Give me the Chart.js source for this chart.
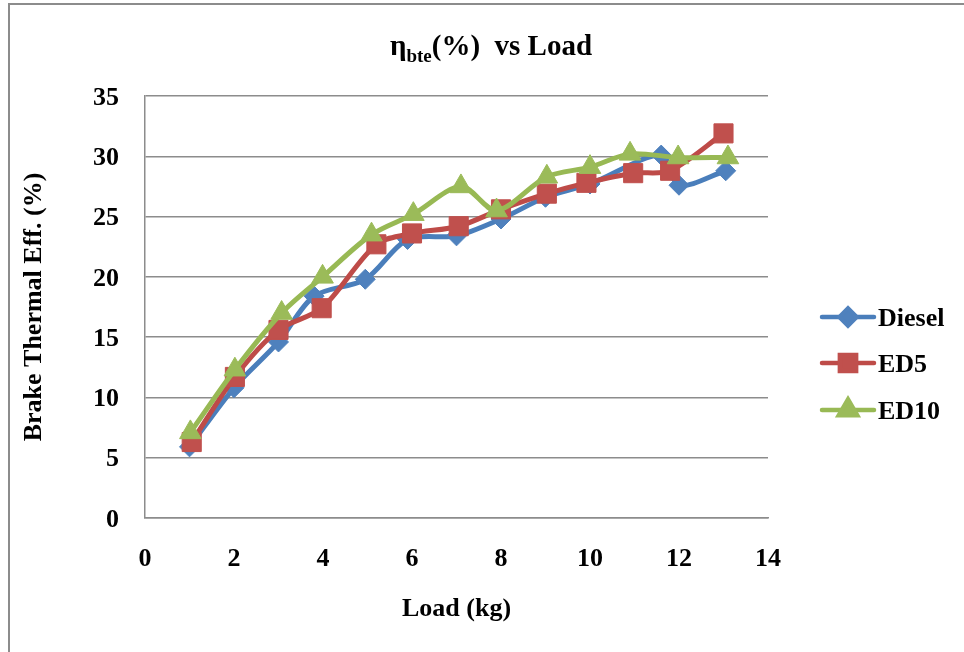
<!DOCTYPE html>
<html>
<head>
<meta charset="utf-8">
<script src="https://cdn.jsdelivr.net/npm/chart.js"></script>
<style>
  html, body { margin: 0; padding: 0; background: #fff; overflow: hidden; }
  #wrap { position: relative; width: 964px; height: 652px; }
  #frame { position: absolute; left: 8px; top: 3px; width: 1000px; height: 700px; border: 2px solid #8c8c8c; }
  #myChart { position: absolute; left: 0; top: 0; }
</style>
</head>
<body>
<div id="wrap">
  <div id="frame"></div>
  <canvas id="myChart" width="964" height="652"></canvas>
</div>
<script>
var seriesNames = ['Diesel', 'ED5', 'ED10'];

var dieselLoad = [1, 2, 3, 3.8, 4.95, 5.9, 7, 8, 9, 10, 11.6, 12, 13.05];
var dieselEff  = [5.9, 10.8, 14.6, 18.4, 19.8, 23.1, 23.4, 24.8, 26.6, 27.7, 30.1, 27.6, 28.8];

var ed5Load = [1.05, 2.02, 3, 3.97, 5.2, 6, 7.05, 8, 9.03, 9.92, 10.97, 11.8, 13];
var ed5Eff  = [6.3, 11.7, 15.6, 17.4, 22.7, 23.6, 24.2, 25.6, 26.9, 27.8, 28.6, 28.8, 31.9];

var ed10Load = [1.02, 2.02, 3.07, 3.99, 5.09, 6.03, 7.1, 7.9, 9.03, 10, 10.9, 11.98, 13.1];
var ed10Eff  = [7.1, 12.3, 17, 20, 23.5, 25.2, 27.5, 25.5, 28.3, 29.1, 30.2, 29.9, 29.9];

var xTicks = [0, 2, 4, 6, 8, 10, 12, 14];
var yTicks = [0, 5, 10, 15, 20, 25, 30, 35];

function toPoints(xs, ys) {
  return xs.map(function(x, i) { return {x: x, y: ys[i]}; });
}

var serif = "'Liberation Serif', 'Times New Roman', serif";
var gridGray = '#8c8c8c';

var styles = [
  {line: '#4A7EBB', fill: '#4F81BD', shape: 'rectRot', r: 10},
  {line: '#BE4B48', fill: '#C0504D', shape: 'rect', r: 13.5},
  {line: '#98B954', fill: '#9BBB59', shape: 'triangle', r: 12.5}
];

// title with subscript, drawn on the canvas
var titlePlugin = {
  id: 'subTitle',
  afterDraw: function(chart) {
    var ctx = chart.ctx;
    var big = 'bold 29px ' + serif, small = 'bold 19px ' + serif;
    ctx.save();
    ctx.fillStyle = '#000';
    ctx.textBaseline = 'alphabetic';
    ctx.font = big; var w1 = ctx.measureText('\u03b7').width;
    ctx.font = small; var w2 = ctx.measureText('bte').width;
    ctx.font = big; var w3 = ctx.measureText('(%)  vs Load').width;
    var x = 491 - (w1 + w2 + w3) / 2;
    ctx.font = big; ctx.fillText('\u03b7', x, 55);
    ctx.font = small; ctx.fillText('bte', x + w1, 62);
    ctx.font = big; ctx.fillText('(%)  vs Load', x + w1 + w2, 55);
    ctx.restore();
  }
};

// legend: line sample with marker, to the right of the plot
var legendPlugin = {
  id: 'sideLegend',
  afterDraw: function(chart) {
    var ctx = chart.ctx;
    var rows = [317, 363, 410];
    ctx.save();
    seriesNames.forEach(function(name, i) {
      var s = styles[i], y = rows[i];
      ctx.strokeStyle = s.line;
      ctx.lineWidth = 4.5;
      ctx.lineCap = 'round';
      ctx.beginPath();
      ctx.moveTo(822, y);
      ctx.lineTo(874, y);
      ctx.stroke();
      ctx.fillStyle = s.fill;
      ctx.strokeStyle = s.fill;
      Chart.helpers.drawPoint(ctx, {pointStyle: s.shape, radius: s.r * 0.85, rotation: 0, borderWidth: 1}, 848, y);
      ctx.fillStyle = '#000';
      ctx.font = 'bold 26px ' + serif;
      ctx.textBaseline = 'middle';
      ctx.textAlign = 'left';
      ctx.fillText(name, 878, y + 2);
    });
    ctx.restore();
  }
};

var allData = [toPoints(dieselLoad, dieselEff), toPoints(ed5Load, ed5Eff), toPoints(ed10Load, ed10Eff)];

var ctx = document.getElementById('myChart').getContext('2d');

var myChart = new Chart(ctx, {
  type: 'scatter',
  data: {
    datasets: seriesNames.map(function(name, i) {
      var s = styles[i];
      return {
        label: name,
        data: allData[i],
        showLine: true,
        tension: 0.3,
        borderColor: s.line,
        borderWidth: 5,
        pointStyle: s.shape,
        pointRadius: s.r,
        pointBackgroundColor: s.fill,
        pointBorderColor: s.fill,
        pointBorderWidth: 1,
        order: 3 - i
      };
    })
  },
  options: {
    responsive: false,
    animation: false,
    layout: { padding: { left: 0, top: 96, right: 196, bottom: 0 } },
    plugins: {
      legend: { display: false },
      title: { display: false },
      tooltip: { enabled: false }
    },
    scales: {
      x: {
        type: 'linear',
        min: 0,
        max: 14,
        afterBuildTicks: function(scale) { scale.ticks = xTicks.map(function(v) { return {value: v}; }); },
        afterFit: function(scale) { scale.height = 134; },
        grid: { display: false, drawTicks: false },
        border: { display: true, color: gridGray, width: 1.5 },
        ticks: { color: '#000', padding: 26, font: { family: serif, size: 26, weight: 'bold' } },
        title: {
          display: true,
          text: 'Load (kg)',
          color: '#000',
          padding: { top: 0, bottom: 27 },
          font: { family: serif, size: 26, weight: 'bold' }
        }
      },
      y: {
        min: 0,
        max: 35,
        afterBuildTicks: function(scale) { scale.ticks = yTicks.map(function(v) { return {value: v}; }); },
        afterFit: function(scale) { scale.width = 145; },
        grid: { color: gridGray, lineWidth: 1.5, drawTicks: false },
        border: { display: true, color: gridGray, width: 1.5 },
        ticks: { color: '#000', padding: 26, labelOffset: 2, font: { family: serif, size: 26, weight: 'bold' } },
        title: {
          display: true,
          text: 'Brake Thermal Eff. (%)',
          color: '#000',
          padding: { top: 19, bottom: 0 },
          font: { family: serif, size: 26, weight: 'bold' }
        }
      }
    }
  },
  plugins: [titlePlugin, legendPlugin]
});
</script>
</body>
</html>
